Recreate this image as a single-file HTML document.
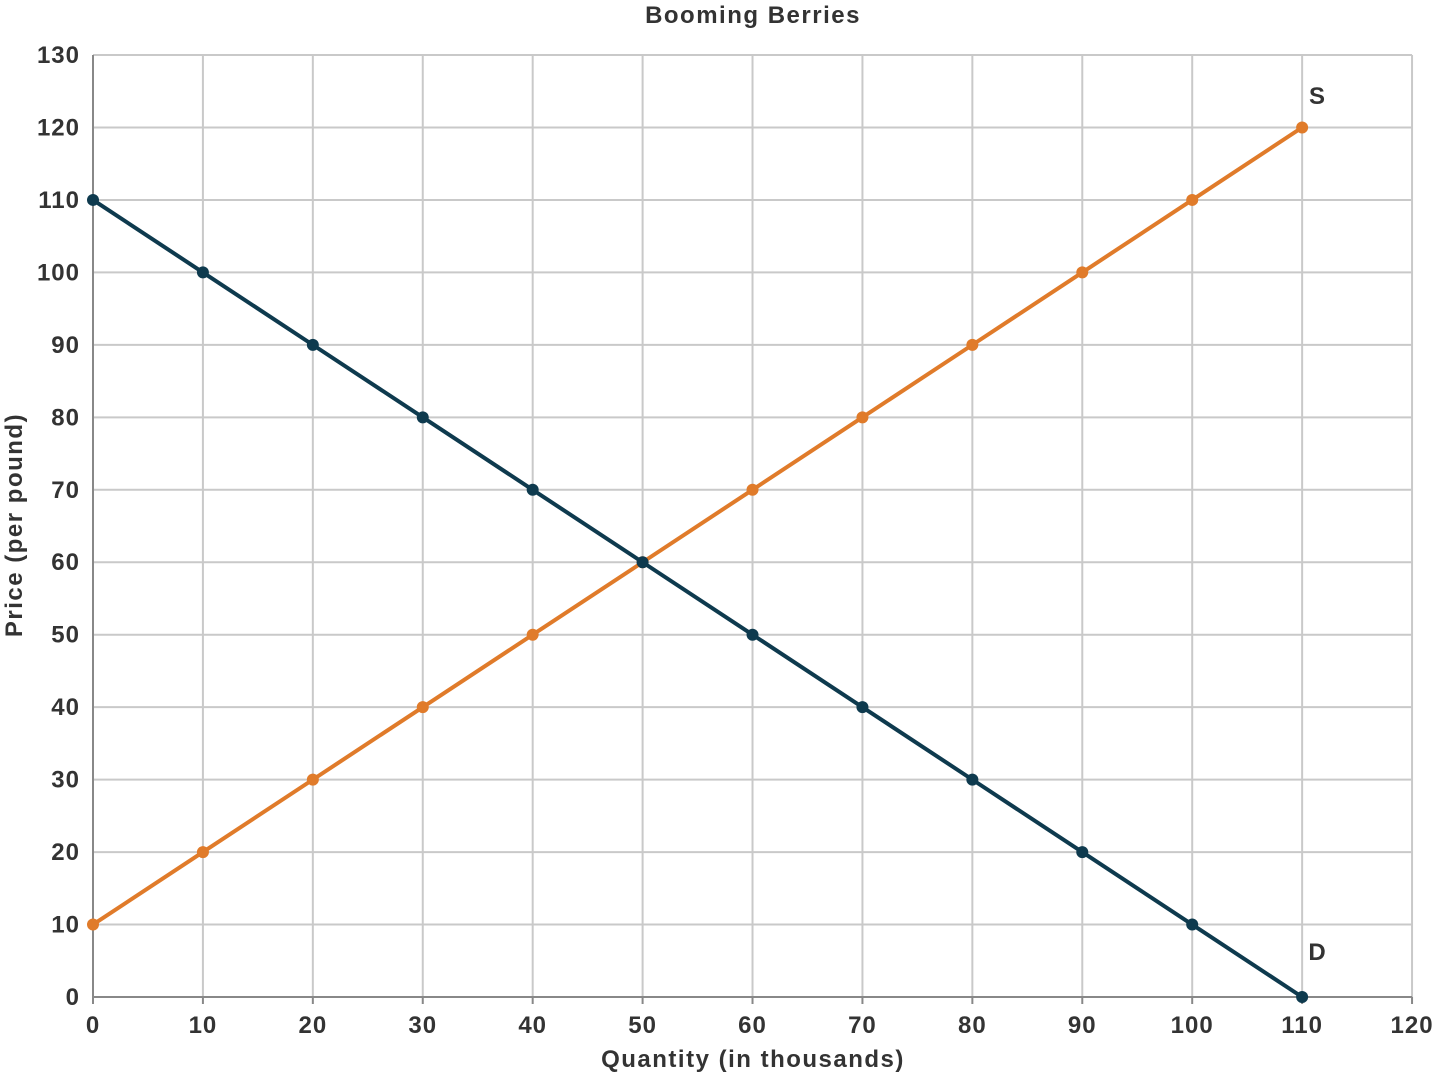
<!DOCTYPE html>
<html><head><meta charset="utf-8"><style>
html,body{margin:0;padding:0;background:#fff;}
svg text{font-family:"Liberation Sans",sans-serif;font-weight:bold;fill:#333;}
</style></head><body>
<svg width="1440" height="1077" viewBox="0 0 1440 1077" xmlns="http://www.w3.org/2000/svg">
<g id="grid" stroke="#c9c9c9" stroke-width="2">
</g>
<script>
(function(){
var ns="http://www.w3.org/2000/svg",svg=document.currentScript.parentNode;
function X(v){return 93+v*10.992;}function Y(v){return 997-v*7.246;}
function el(t,a,p){var e=document.createElementNS(ns,t);for(var k in a)e.setAttribute(k,a[k]);(p||svg).appendChild(e);return e;}
var g=document.getElementById('grid');
for(var i=0;i<=12;i++){el('line',{x1:X(i*10),x2:X(i*10),y1:Y(130),y2:Y(0)},g);}
for(var j=0;j<=13;j++){el('line',{x1:X(0),x2:X(120),y1:Y(j*10),y2:Y(j*10)},g);}
el('line',{x1:X(0),x2:X(120),y1:Y(0),y2:Y(0),stroke:'#888','stroke-width':2});
el('line',{x1:X(0),x2:X(0),y1:Y(0),y2:Y(130),stroke:'#888','stroke-width':2});
for(var i=0;i<=12;i++){el('line',{x1:X(i*10),x2:X(i*10),y1:997,y2:1004,stroke:'#888','stroke-width':2});
var t=el('text',{x:X(i*10),y:1033,'text-anchor':'middle','font-size':24,'letter-spacing':1});t.textContent=i*10;}
for(var j=0;j<=13;j++){var t=el('text',{x:80,y:Y(j*10)+8,'text-anchor':'end','font-size':24,'letter-spacing':1});t.textContent=j*10;}
function series(pts,c){var d=pts.map(function(p,i){return (i?'L':'M')+X(p[0])+' '+Y(p[1]);}).join(' ');
el('path',{d:d,stroke:c,'stroke-width':4,fill:'none'});
pts.forEach(function(p){el('circle',{cx:X(p[0]),cy:Y(p[1]),r:6,fill:c});});}
var S=[],D=[];for(var q=0;q<=110;q+=10){S.push([q,q+10]);D.push([q,110-q]);}
series(S,'#e07b2a');series(D,'#0e3a4e');
var t;
t=el('text',{x:1317,y:104,'text-anchor':'middle','font-size':24});t.textContent='S';
t=el('text',{x:1317,y:960,'text-anchor':'middle','font-size':24});t.textContent='D';
t=el('text',{x:753,y:23,'text-anchor':'middle','font-size':24,'letter-spacing':1.5});t.textContent='Booming Berries';
t=el('text',{x:753,y:1067,'text-anchor':'middle','font-size':24,'letter-spacing':1.5});t.textContent='Quantity (in thousands)';
t=el('text',{x:0,y:0,'text-anchor':'middle','font-size':24,'letter-spacing':1.5,transform:'translate(22,525) rotate(-90)'});t.textContent='Price (per pound)';
})();
</script>
</svg>
</body></html>
